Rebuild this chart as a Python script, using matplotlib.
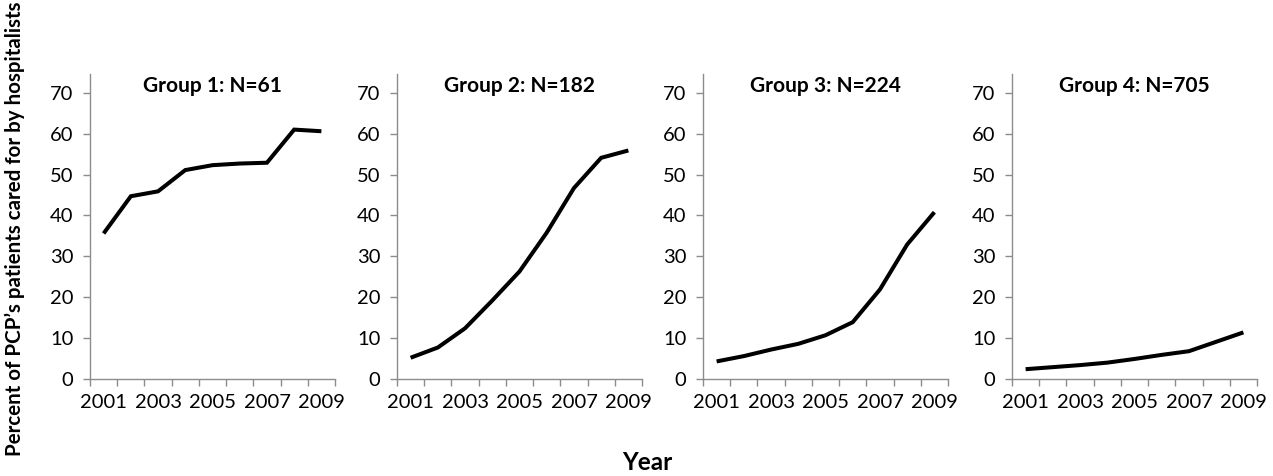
"""Share of PCP patients cared for by hospitalists, 2001-2009, four PCP groups."""

import matplotlib.pyplot as plt
from matplotlib.ticker import FixedLocator

plt.rcParams["font.family"] = ["Lato", "DejaVu Sans"]

YEARS = [2001, 2002, 2003, 2004, 2005, 2006, 2007, 2008, 2009]
TITLES = ["Group 1: N=61", "Group 2: N=182", "Group 3: N=224", "Group 4: N=705"]

group1 = [35.6, 44.7, 45.9, 51.1, 52.3, 52.7, 52.9, 61.0, 60.6]
group2 = [5.2, 7.7, 12.4, 19.2, 26.3, 35.8, 46.7, 54.1, 55.9]
group3 = [4.3, 5.6, 7.2, 8.6, 10.7, 13.9, 21.9, 32.9, 40.8]
group4 = [2.4, 2.9, 3.4, 4.0, 4.9, 5.9, 6.8, 9.1, 11.4]
SERIES = [group1, group2, group3, group4]

AXIS_GREY = "#8c8c8c"
LEFTS_PX = [90, 397, 703, 1012]
WIDTH_PX = 245

fig = plt.figure(figsize=(12.73, 4.76), dpi=100)
W, H = 1273, 476
bottom = 1 - 379 / H
height = (379 - 74) / H

for left_px, title, values in zip(LEFTS_PX, TITLES, SERIES):
    ax = fig.add_axes([left_px / W, bottom, WIDTH_PX / W, height])
    pos = list(range(len(YEARS)))
    ax.plot(pos, values, color="black", linewidth=2.9, solid_joinstyle="miter",
            solid_capstyle="butt")
    ax.set_xlim(-0.5, len(YEARS) - 0.5)
    ax.set_ylim(0, 74.6)
    ax.set_yticks(range(0, 71, 10))
    ax.set_xticks(pos[::2])
    ax.set_xticklabels([str(y) for y in YEARS[::2]])
    ax.xaxis.set_minor_locator(FixedLocator([p - 0.5 for p in range(len(YEARS) + 1)]))
    ax.tick_params(axis="x", which="major", length=0, pad=11, labelsize=14.5)
    ax.tick_params(axis="x", which="minor", length=5, width=1, color=AXIS_GREY,
                   direction="out")
    ax.tick_params(axis="y", length=5, width=1, color=AXIS_GREY, direction="out",
                   pad=7, labelsize=14.5)
    for side in ("top", "right"):
        ax.spines[side].set_visible(False)
    for side in ("left", "bottom"):
        ax.spines[side].set_color(AXIS_GREY)
        ax.spines[side].set_linewidth(1)
    ax.text(0.5, 0.96, title, transform=ax.transAxes, ha="center", va="center",
            fontsize=15, fontweight="bold")

fig.text(15 / W, 1 - 229 / H, "Percent of PCP\u2019s patients cared for by hospitalists",
         rotation=90, ha="center", va="center", fontsize=14.8, fontweight="bold")
fig.text(647 / W, 1 - 463 / H, "Year", ha="center", va="center", fontsize=17.5,
         fontweight="bold")

fig.savefig("out.png", dpi=100)
